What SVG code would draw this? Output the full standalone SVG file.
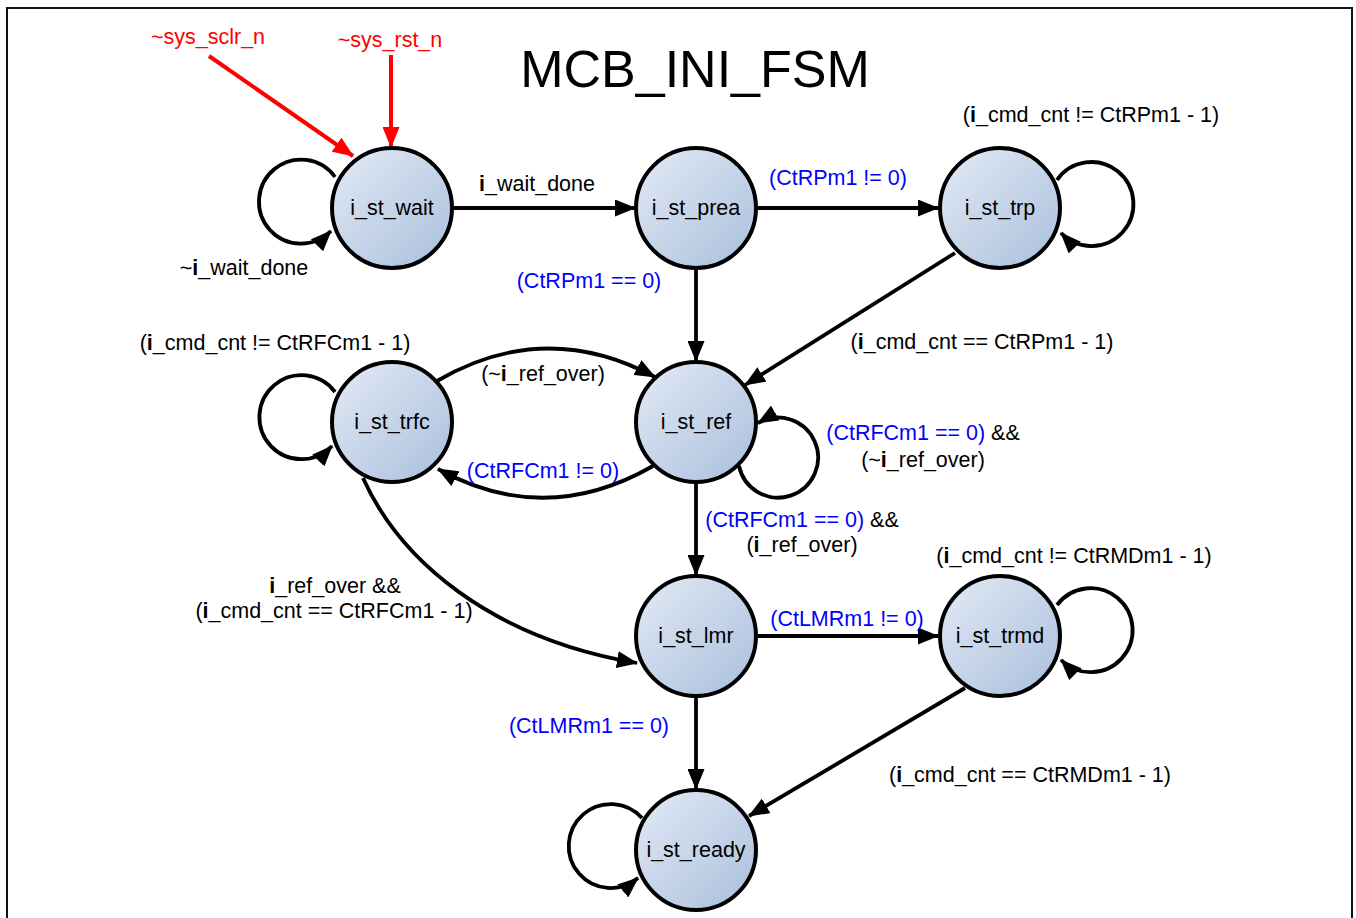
<svg xmlns="http://www.w3.org/2000/svg" width="1356" height="918" viewBox="0 0 1356 918">
  <style>
    text { font-family: "Liberation Sans", Arial, sans-serif; font-size: 21.5px; fill: #000; text-anchor: middle; }
    .title { font-size: 52px; }
    .blue { fill: #0000ff; }
    .red { fill: #ff0000; }
    .b { font-weight: bold; }
    .state { fill: url(#stateFill); stroke: #000; stroke-width: 4; }
    .edge { fill: none; stroke: #000; stroke-width: 3.8; marker-end: url(#arrow); }
    .reset { fill: none; stroke: #ff0000; stroke-width: 4; marker-end: url(#arrowRed); }
  </style>
  <defs>
    <linearGradient id="stateFill" x1="0" y1="0" x2="1" y2="1">
      <stop offset="0" stop-color="#e3eaf5"/>
      <stop offset="1" stop-color="#a9bfdc"/>
    </linearGradient>
    <marker id="arrow" markerUnits="userSpaceOnUse" markerWidth="21" markerHeight="17" refX="20" refY="8.5" orient="auto">
      <path d="M0,0 L21,8.5 L0,17 z" fill="#000"/>
    </marker>
    <marker id="arrowRed" markerUnits="userSpaceOnUse" markerWidth="21" markerHeight="17" refX="20" refY="8.5" orient="auto">
      <path d="M0,0 L21,8.5 L0,17 z" fill="#ff0000"/>
    </marker>
  </defs>

  <rect width="1356" height="918" fill="#fff"/>
  <!-- page frame -->
  <path d="M7,918 V8 H1352 V918" fill="none" stroke="#111" stroke-width="2"/>

  <text class="title" x="695" y="87">MCB_INI_FSM</text>

  <!-- transitions -->
  <g id="connectors">
    <path class="reset" d="M209,56 L353,156"/>
    <path class="reset" d="M391,55 L391,147"/>

    <path class="edge" d="M335,177 A42,42 0 1 0 331,231"/>
    <path class="edge" d="M452,208 L635,208"/>
    <path class="edge" d="M757,208 L938,208"/>
    <path class="edge" d="M696,270 L696,361"/>
    <path class="edge" d="M1057,180 A42,42 0 1 1 1061,233"/>
    <path class="edge" d="M955,253 L745,385"/>

    <path class="edge" d="M335,392 A42,42 0 1 0 332,446"/>
    <path class="edge" d="M437,381 Q545,318 655,377"/>
    <path class="edge" d="M653,466 Q545,528 438,469"/>
    <path class="edge" d="M739,466 A40,40 0 1 0 758,423"/>
    <path class="edge" d="M696,483 L696,575"/>
    <path class="edge" d="M363,478 C400,560 490,638 637,663"/>

    <path class="edge" d="M757,636 L938,636"/>
    <path class="edge" d="M1057,605 A42,42 0 1 1 1061,660"/>
    <path class="edge" d="M696,697 L696,789"/>
    <path class="edge" d="M965,688 L749,816"/>
    <path class="edge" d="M642,818 A42,42 0 1 0 638,878"/>
  </g>

  <!-- transition labels -->
  <g id="labels">
    <text class="red" x="208" y="44">~sys_sclr_n</text>
    <text class="red" x="390" y="47">~sys_rst_n</text>
    <text x="244" y="275">~<tspan class="b">i</tspan>_wait_done</text>
    <text x="537" y="191"><tspan class="b">i</tspan>_wait_done</text>
    <text class="blue" x="838" y="185">(CtRPm1 != 0)</text>
    <text class="blue" x="589" y="288">(CtRPm1 == 0)</text>
    <text x="1091" y="122">(<tspan class="b">i</tspan>_cmd_cnt != CtRPm1 - 1)</text>
    <text x="982" y="349">(<tspan class="b">i</tspan>_cmd_cnt == CtRPm1 - 1)</text>
    <text x="275" y="350">(<tspan class="b">i</tspan>_cmd_cnt != CtRFCm1 - 1)</text>
    <text x="543" y="381">(~<tspan class="b">i</tspan>_ref_over)</text>
    <text class="blue" x="543" y="478">(CtRFCm1 != 0)</text>
    <text x="923" y="440"><tspan class="blue">(CtRFCm1 == 0)</tspan> &amp;&amp;</text>
    <text x="923" y="467">(~<tspan class="b">i</tspan>_ref_over)</text>
    <text x="802" y="527"><tspan class="blue">(CtRFCm1 == 0)</tspan> &amp;&amp;</text>
    <text x="802" y="552">(<tspan class="b">i</tspan>_ref_over)</text>
    <text x="335" y="593"><tspan class="b">i</tspan>_ref_over &amp;&amp;</text>
    <text x="334" y="618">(<tspan class="b">i</tspan>_cmd_cnt == CtRFCm1 - 1)</text>
    <text class="blue" x="847" y="626">(CtLMRm1 != 0)</text>
    <text x="1074" y="563">(<tspan class="b">i</tspan>_cmd_cnt != CtRMDm1 - 1)</text>
    <text x="1030" y="782">(<tspan class="b">i</tspan>_cmd_cnt == CtRMDm1 - 1)</text>
    <text class="blue" x="589" y="733">(CtLMRm1 == 0)</text>
  </g>

  <!-- states -->
  <g id="i_st_wait">
    <circle class="state" cx="392" cy="208" r="60"/>
    <text x="392" y="215">i_st_wait</text>
  </g>
  <g id="i_st_prea">
    <circle class="state" cx="696" cy="208" r="60"/>
    <text x="696" y="215">i_st_prea</text>
  </g>
  <g id="i_st_trp">
    <circle class="state" cx="1000" cy="208" r="60"/>
    <text x="1000" y="215">i_st_trp</text>
  </g>
  <g id="i_st_trfc">
    <circle class="state" cx="392" cy="422" r="60"/>
    <text x="392" y="429">i_st_trfc</text>
  </g>
  <g id="i_st_ref">
    <circle class="state" cx="696" cy="422" r="60"/>
    <text x="696" y="429">i_st_ref</text>
  </g>
  <g id="i_st_lmr">
    <circle class="state" cx="696" cy="636" r="60"/>
    <text x="696" y="643">i_st_lmr</text>
  </g>
  <g id="i_st_trmd">
    <circle class="state" cx="1000" cy="636" r="60"/>
    <text x="1000" y="643">i_st_trmd</text>
  </g>
  <g id="i_st_ready">
    <circle class="state" cx="696" cy="850" r="60"/>
    <text x="696" y="857">i_st_ready</text>
  </g>
</svg>
